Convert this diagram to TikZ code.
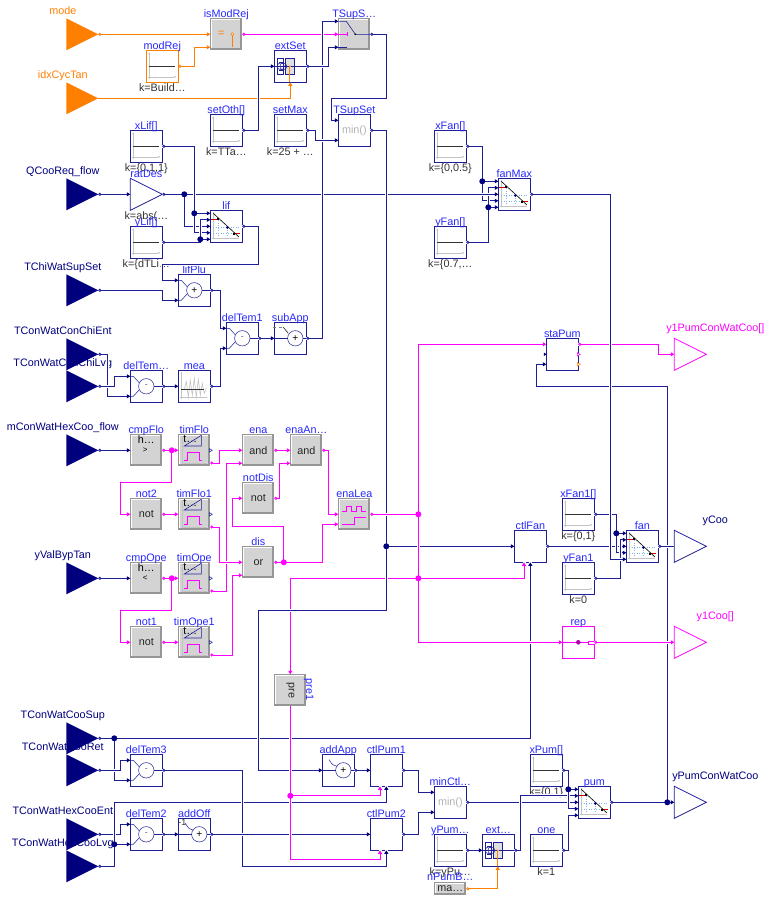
\documentclass[tikz,border=0pt]{standalone}
\usepackage{fontspec}
\setmainfont{Liberation Sans}
\usetikzlibrary{calc,arrows.meta}
\definecolor{navy}{RGB}{0,0,127}
\definecolor{lnav}{RGB}{30,30,150}
\definecolor{dkor}{RGB}{255,127,0}
\definecolor{mgt}{RGB}{255,0,255}
\definecolor{namec}{RGB}{40,40,255}
\definecolor{boolg}{RGB}{211,211,211}
\definecolor{shadg}{RGB}{150,150,150}
\definecolor{axg}{RGB}{195,195,195}
\definecolor{dotb}{RGB}{130,180,240}
\tikzset{
 txt/.style={inner sep=0pt,outer sep=0pt,font=\fontsize{10.8}{12}\selectfont},
 nmtxt/.style={txt,text=namec},
 valtxt/.style={txt,text=black!80},
 boolt/.style={txt,text=black!85},
 bkbox/.style={draw=lnav,fill=white,line width=.8pt,minimum size=32pt,inner sep=0pt,outer sep=0pt},
 bkorange/.style={bkbox,draw=dkor},
 bkmag/.style={bkbox,draw=mgt},
 bkhid/.style={minimum size=32pt,inner sep=0pt,outer sep=0pt},
 ic/.style={line width=.5pt},
 halo/.style={preaction={draw=white,line width=3pt,-}},
 wn/.style={draw=lnav,line width=.8pt,halo,{Circle[open,length=3pt,width=3pt,fill=white,color=lnav]}-{Triangle[length=3.5pt,width=4pt,color=navy]}},
 wnj/.style={draw=lnav,line width=.8pt,halo,-{Triangle[length=3.5pt,width=4pt,color=navy]}},
 wnu/.style={draw=lnav,line width=.8pt,halo,{Circle[open,length=3pt,width=3pt,fill=white]}-},
 wm/.style={draw=mgt,line width=.8pt,halo,{Circle[open,length=3pt,width=3pt,fill=white]}-{Triangle[length=3.5pt,width=4pt]}},
 wmj/.style={draw=mgt,line width=.8pt,halo,-{Triangle[length=3.5pt,width=4pt]}},
 wo/.style={draw=dkor,line width=.8pt,{Circle[open,length=3pt,width=3pt,fill=white]}-{Triangle[length=3.5pt,width=4pt]}},
 wob/.style={draw=dkor,line width=.8pt,-{Triangle[length=3.5pt,width=4pt]}},
}
\newcommand{\ports}[1]{%
 \coordinate (#1-na) at ($(#1.center)+(-16,-10)$);
 \coordinate (#1-nb) at ($(#1.center)+(-16,10)$);
 \coordinate (#1-ta) at ($(#1.center)+(-16,-13)$);
 \coordinate (#1-tb) at ($(#1.center)+(-16,13)$);
 \coordinate (#1-ia) at ($(#1.center)+(-16,-6.5)$);
 \coordinate (#1-ib) at ($(#1.center)+(-16,6.5)$);
 \coordinate (#1-bm) at ($(#1.center)+(-6.3,16)$);
}
\newcommand{\nameit}[2]{\node[nmtxt,anchor=base] (#1-n) at ($(#1.north)+(0,-1)$) {#2};}
\newcommand{\valueit}[2]{\node[valtxt,anchor=base] (#1-v) at ($(#1.south)+(0,8.8)$) {#2};}
% plain navy block with code inside
\newcommand{\blk}[5]{\node[bkbox] (#1) at (#2,#3) {};\ports{#1}\begin{scope}[shift={(#2,#3)}]#5\end{scope}\nameit{#1}{#4}}
% constant source
\newcommand{\consticon}{%
 \draw[axg,ic,-{Triangle[length=2pt,width=2pt]}] (-13,13) -- (-13,-14);
 \draw[axg,ic,-{Triangle[length=2pt,width=2pt]}] (-14,10.5) -- (14,10.5);
 \draw[black!80,line width=.7pt] (-13,0) -- (13,0);}
\newcommand{\constblk}[5]{\blk{#1}{#2}{#3}{#4}{\consticon}\valueit{#1}{#5}}
% grey boolean block
\newcommand{\boolblk}[5]{\node[bkhid] (#1) at (#2,#3) {};\ports{#1}%
 \begin{scope}[shift={(#2,#3)}]
 \fill[shadg] (-16,-16) rectangle (16,16);
 \fill[white] (-15,-15) rectangle (13.7,13.7);
 \fill[boolg] (-14,-14) rectangle (13.7,13.7);
 #5
 \end{scope}\nameit{#1}{#4}}
\newcommand{\bt}[2]{\node[boolt] (#1-s) at (0,0) {#2};}
\newcommand{\timerblk}[4]{\boolblk{#1}{#2}{#3}{#4}{%
 \draw[axg,ic] (-12,-14) -- (-12,13) -- (13,13);
 \node[boolt,text=black] (#1-s) at (-4,-11) {t…};
 \draw[lnav,line width=.6pt] (-10,-4.3) -- (7,-4.3) -- (7,-15) -- cycle;
 \draw[mgt,line width=.7pt] (-10,10) -- (-7,10) -- (-7,2) -- (5.5,2) -- (5.5,10) -- (8,10);
 \draw[lnav,fill=white,line width=.5pt] (15,-1.7) -- (18,0) -- (15,1.7) -- cycle;}}
\newcommand{\cmpblk}[5]{\boolblk{#1}{#2}{#3}{#4}{%
 \node[boolt,text=black] (#1-h) at (0,-11) {h…};
 \node[boolt,text=black,font=\fontsize{8}{9}\selectfont] (#1-s) at (-1,0) {#5};}}
% sum icons
\newcommand{\sumtwo}[3]{%
 \draw[lnav,ic] (0,0) circle (7.7);
 \draw[lnav,ic] (-16,-10) -- (-13,-10) -- (-7,-3.5);
 \draw[lnav,ic] (-16,10) -- (-13,10) -- (-7,3.5);
 \draw[lnav,ic] (7.7,0) -- (16,0);
 \node[boolt,text=#2,font=\fontsize{#3}{9}\selectfont] (#1-s) at (0,0) {+};}
\newcommand{\subtwo}[1]{%
 \draw[lnav,ic] (0,0) circle (7.7);
 \draw[lnav,ic] (-16,-10) -- (-13,-10) -- (-7,-3.5);
 \draw[lnav,ic] (-16,10) -- (-13,10) -- (-7,3.5);
 \draw[lnav,ic] (7.7,0) -- (16,0);
 \node[boolt,text=black!60,font=\fontsize{9}{9}\selectfont] (#1-s) at (0,0) {-};}
\newcommand{\sumone}[2]{%
 \draw[lnav,ic] (5,0) circle (7.7);
 \draw[lnav,ic] (-16,0) -- (-2.7,0);
 \draw[lnav,ic] (12.7,0) -- (16,0);
 \node[boolt,text=black,font=\fontsize{10}{9}\selectfont] (#1-s) at (5,0) {#2};}
% interpolation icon
\newcommand{\ixpicon}{%
 \draw[axg,ic] (-13,-14) -- (-13,13);
 \draw[axg,ic] (-14,11.5) -- (13,11.5);
 \draw[dotb,line width=.5pt,dotted] (-13,0.7) -- (14,0.7);
 \draw[dotb,line width=.5pt,dotted] (-13,6.5) -- (6,6.5);
 \draw[dotb,line width=.5pt,dotted] (-8.3,-6) -- (-8.3,11);
 \draw[dotb,line width=.5pt,dotted] (1,1) -- (1,11);
 \draw[red!80!black,line width=.6pt] (-15,-6.7) -- (-9,-6.7);
 \draw[red!80!black,line width=.6pt] (8,7.3) -- (13.3,7.3);
 \draw[black,line width=.6pt] (-13,-13) -- (12.7,10.7);
 \fill[black] (-9.3,-8) rectangle (-7.3,-6);
 \fill[black] (6.7,6.3) rectangle (8.7,8.3);
 \fill[navy] (1,1.2) circle (1.5);}
\newcommand{\minicon}[1]{\node[txt,text=black!30] (#1-s) at (0,0) {min()};}
\newcommand{\extricon}{%
 \draw[lnav,ic,fill=white] (-13.3,-7.7) rectangle (-6.7,7.7);
 \fill[black!12] (-5,-7.7) rectangle (4.3,7.7);
 \draw[lnav,ic] (-5,-7.7) rectangle (4.3,7.7);
 \draw[lnav,ic] (-16,0) -- (-1.5,0);
 \draw[lnav,ic] (-11,-4) -- (-6,-4) (-11,4) -- (-6,4);
 \draw[lnav,ic] (-7,0) circle (3.5);
 \draw[lnav,ic] (-9.5,0) circle (3.5);
 \draw[lnav,ic] (1,0) -- (16,0);
 \draw[dkor,line width=.7pt] (-0.5,0) -- (-0.5,16);
 \fill[dkor] (-0.5,0) circle (1);}
\begin{document}
\begin{tikzpicture}[x=1pt,y=-1pt]
\useasboundingbox (0,0) rectangle (771,902);
\fill[white] (0,0) rectangle (771,902);
\begin{scope}[xshift=.3pt,yshift=-.3pt]
% ---------- input names, then triangles
\foreach \nm/\yy/\tx/\cc in {mode/34/mode/dkor,idxCycTan/98/idxCycTan/dkor,QCooReq/194/QCooReq\_flow/navy,TChiWatSupSet/290/TChiWatSupSet/navy,TConWatConChiEnt/354/TConWatConChiEnt/navy,TConWatConChiLvg/386/TConWatConChiLvg/navy,mConWat/450/mConWatHexCoo\_flow/navy,yValBypTan/578/yValBypTan/navy,TConWatCooSup/738/TConWatCooSup/navy,TConWatCooRet/770/TConWatCooRet/navy,TConWatHexCooEnt/834/TConWatHexCooEnt/navy,TConWatHexCooLvg/866/TConWatHexCooLvg/navy}{
 \node[bkhid] (\nm) at (82,\yy) {};
 \node[txt,text=\cc,anchor=base] (\nm-n) at ($(\nm.center)+(-19.5,-19.4)$) {\tx};
}
\foreach \nm/\cc in {mode/dkor,idxCycTan/dkor,QCooReq/navy,TChiWatSupSet/navy,TConWatConChiEnt/navy,TConWatConChiLvg/navy,mConWat/navy,yValBypTan/navy,TConWatCooSup/navy,TConWatCooRet/navy,TConWatHexCooEnt/navy,TConWatHexCooLvg/navy}{
 \fill[\cc] (\nm.north west) -- (\nm.east) -- (\nm.south west) -- cycle;
}
% ---------- outputs
\foreach \nm/\yy/\tx/\cc/\lc in {yOnePum/354/y1PumConWatCoo[]/mgt/mgt,yCoo/546/yCoo/lnav/navy,yOneCoo/642/y1Coo[]/mgt/mgt,yPumCon/802/yPumConWatCoo/lnav/navy}{
 \node[bkhid] (\nm) at (690,\yy) {};
 \draw[\cc,line width=.8pt,fill=white] (\nm.north west) -- (\nm.east) -- (\nm.south west) -- cycle;
 \node[txt,text=\lc,anchor=base] (\nm-n) at ($(\nm.center)+(25,-23)$) {\tx};
}
% ---------- upper blocks
\boolblk{isModRej}{226}{34}{isModRej}{%
 \node[boolt,text=dkor] (isModRej-s) at (-5,0) {=};
 \draw[dkor,line width=.7pt] (6,0) -- (6,13);
 \draw[dkor,line width=.6pt,fill=white] (6,0) circle (1.5);}
\node[bkorange] (modRej) at (162,66) {};\ports{modRej}
\begin{scope}[shift={(162,66)}]\consticon\end{scope}
\nameit{modRej}{modRej}\valueit{modRej}{k=Build…}
\blk{extSet}{290}{66}{extSet}{\extricon}
\boolblk{TSupS}{354}{34}{TSupS…}{%
 \draw[lnav,line width=.6pt] (-16,-13) -- (-8,-13) -- (1,0) -- (16,0);
 \draw[mgt,line width=.6pt] (-16,0) -- (-7,0);
 \draw[mgt,line width=.6pt] (-7,-2) -- (-7,2);
 \draw[lnav,line width=.6pt] (-16,13) -- (-7,13);
 \fill[black] (1,0) circle (.9);}
\blk{TSupSet}{354}{130}{TSupSet}{\minicon{TSupSet}}
\constblk{setOth}{226}{130}{setOth[]}{k=TTa…}
\constblk{setMax}{290}{130}{setMax}{k=25 + …}
\constblk{xLif}{146}{146}{xLif[]}{k=\{0,1,1\}}
\node[bkhid] (ratDes) at (146,194) {};
\draw[lnav,line width=.8pt,fill=white] (ratDes.north west) -- (ratDes.east) -- (ratDes.south west) -- cycle;
\nameit{ratDes}{ratDes}\valueit{ratDes}{k=abs(…}
\constblk{yLif}{146}{242}{yLif[]}{k=\{dTLi…}
\blk{lif}{226}{226}{lif}{\ixpicon}
\blk{lifPlu}{194}{290}{lifPlu}{\sumtwo{lifPlu}{black}{10}}
\blk{delTemOne}{242}{338}{delTem1}{\subtwo{delTemOne}}
\blk{subApp}{290}{338}{subApp}{\sumone{subApp}{+}
 \draw[black!50,ic,dashed] (-17,-11) -- (-8,-11);
 \draw[black,ic] (-7,-11) -- (-2,-5);}
\blk{delTem}{146}{386}{delTem…}{\subtwo{delTem}}
\blk{mea}{194}{386}{mea}{%
 \draw[axg,ic] (-13,-14) -- (-13,13) (-14,11) -- (13,11);
 \draw[axg,line width=.6pt] (-10,3) -- (-8,-5) -- (-6,11) -- (-4,-6) -- (-2,9) -- (0,-8) -- (2,11) -- (4,-7) -- (6,9) -- (8,-3) -- (10,7) -- (12,2);
 \draw[black!80,line width=.7pt] (-13,3) -- (10,3);}
% ---------- boolean column
\cmpblk{cmpFlo}{146}{450}{cmpFlo}{>}
\timerblk{timFlo}{194}{450}{timFlo}
\boolblk{ena}{258}{450}{ena}{\bt{ena}{and}}
\boolblk{enaAnd}{306}{450}{enaAn…}{\bt{enaAnd}{and}}
\boolblk{notTwo}{146}{514}{not2}{\bt{notTwo}{not}}
\timerblk{timFloOne}{194}{514}{timFlo1}
\boolblk{notDis}{258}{498}{notDis}{\bt{notDis}{not}}
\boolblk{enaLea}{354}{514}{enaLea}{%
 \draw[mgt,line width=.7pt] (-12,-3.3) -- (-8,-3.3) -- (-8,-8.3) -- (-3,-8.3) -- (-3,-3.3) -- (2,-3.3) -- (2,-8.3) -- (7,-8.3) -- (7,-3.3) -- (12,-3.3);
 \draw[mgt,line width=.7pt] (-12,9.7) -- (0,9.7) -- (0,3.3) -- (12,3.3);}
\boolblk{dis}{258}{562}{dis}{\bt{dis}{or}}
\cmpblk{cmpOpe}{146}{578}{cmpOpe}{<}
\timerblk{timOpe}{194}{578}{timOpe}
\boolblk{notOne}{146}{642}{not1}{\bt{notOne}{not}}
\timerblk{timOpeOne}{194}{642}{timOpe1}
% pre
\node[bkhid] (preOne) at (290,690) {};
\begin{scope}[shift={(290,690)}]
 \fill[shadg] (-16,-16) rectangle (16,16);
 \fill[white] (-15,-15) rectangle (13.7,13.7);
 \fill[boolg] (-14,-14) rectangle (13.7,13.7);
 \node[boolt,rotate=-90] (preOne-s) at (0,0) {pre};
\end{scope}
\node[nmtxt,rotate=-90] (preOne-n) at ($(preOne.center)+(18.5,-1)$) {pre1};
% ---------- lower blocks
\blk{delTemThree}{146}{770}{delTem3}{\subtwo{delTemThree}}
\blk{addApp}{338}{770}{addApp}{\sumone{addApp}{+}
 \draw[lnav,ic] (-9.3,-10.7) .. controls (-6,-5) and (-4,-4.5) .. (-1.3,-4);}
\blk{ctlPumOne}{386}{770}{ctlPum1}{}
\blk{delTemTwo}{146}{834}{delTem2}{\subtwo{delTemTwo}}
\blk{addOff}{194}{834}{addOff}{\sumone{addOff}{+}
 \node[valtxt,font=\fontsize{9}{9}\selectfont] (addOff-k) at (-12,-12) {-1};
 \draw[lnav,ic] (-9,-11) .. controls (-6,-6) and (-4,-4.5) .. (-1,-4);}
\blk{ctlPumTwo}{386}{834}{ctlPum2}{}
\blk{minCtl}{450}{802}{minCtl…}{\minicon{minCtl}}
\constblk{yPum}{450}{850}{yPum…}{k=yPu…}
\blk{ext}{498}{850}{ext…}{\extricon}
\constblk{one}{546}{850}{one}{k=1}
\constblk{xPum}{546}{770}{xPum[]}{k=\{0,1\}}
\blk{pum}{594}{802}{pum}{\ixpicon}
\node[bkhid,minimum height=13pt] (nPumB) at (450,888.5) {};
\fill[shadg] (nPumB.north west) rectangle (nPumB.south east);
\fill[white] ($(nPumB.north west)+(1,1)$) rectangle ($(nPumB.south east)+(-2,-2)$);
\fill[boolg] ($(nPumB.north west)+(2,2)$) rectangle ($(nPumB.south east)+(-2,-2)$);
\node[boolt] (nPumB-s) at (nPumB.center) {ma…};
\node[nmtxt,anchor=base] (nPumB-n) at ($(nPumB.north)+(0,-2)$) {nPumB…};
% ---------- right blocks
\constblk{xFan}{450}{146}{xFan[]}{k=\{0,0.5\}}
\constblk{yFan}{450}{242}{yFan[]}{k=\{0.7,…}
\blk{fanMax}{514}{194}{fanMax}{\ixpicon}
\blk{staPum}{562}{354}{staPum}{}
\blk{ctlFan}{530}{546}{ctlFan}{}
\constblk{xFanOne}{578}{514}{xFan1[]}{k=\{0,1\}}
\constblk{yFanOne}{578}{578}{yFan1}{k=0}
\blk{fan}{642}{546}{fan}{\ixpicon}
\node[bkmag] (rep) at (578,642) {};\ports{rep}
\begin{scope}[shift={(578,642)}]
 \draw[mgt,ic] (-16,0) -- (10,0);
 \draw[mgt,ic] (10,-1.5) rectangle (16,1.5);
 \fill[mgt!70!black] (0,0) circle (2.3);
\end{scope}
\nameit{rep}{rep}
% ---------- junctions
\coordinate (jRat) at (184,194);
\coordinate (jXLif) at (194,213);
\coordinate (jYLif) at (200,239);
\coordinate (jXFan) at (482,181);
\coordinate (jYFan) at (488,207);
\coordinate (jCmpFlo) at (171.5,450);
\coordinate (jCmpOpe) at (171.5,578);
\coordinate (jDis) at (283.5,562);
\coordinate (jEa) at (418,514);
\coordinate (jEb) at (418,578);
\coordinate (jT) at (386,546);
\coordinate (jSup) at (114,738);
\coordinate (jLvg) at (114,844);
\coordinate (jPre) at (290,795.5);
\coordinate (jXPum) at (568,789);
\coordinate (jPumO) at (667,802);
\coordinate (jXFanO) at (616,533);
% ---------- orange wires
\draw[wo] (mode.east) -- (isModRej.west);
\draw[wo] (modRej.east) -- ++(16,0) |- (isModRej-tb);
\draw[wob] (idxCycTan.east) -| (extSet.south);
\draw[wo] (nPumB.east) -| ($(ext.south)+(-.5,0)$);
% ---------- magenta wires (first group)
\draw[wm] (isModRej.east) -- (TSupS.west);
\draw[wm] (cmpFlo.east) -- (timFlo.west);
\draw[wmj] (jCmpFlo) -- (171.5,482) -- (120,482) |- (notTwo.west);
\draw[wm] (notTwo.east) -- (timFloOne.west);
\draw[wm] (cmpOpe.east) -- (timOpe.west);
\draw[wmj] (jCmpOpe) -- (171.5,610) -- (120,610) |- (notOne.west);
\draw[wm] (notOne.east) -- (timOpeOne.west);
\draw[wm] ($(timOpe.east)+(0,12.7)$) -- ++(16,0) |- (ena-tb);
\draw[wm] ($(timOpeOne.east)+(0,12.7)$) -- ++(22,0) |- (dis-tb);
\draw[wm] ($(timFloOne.east)+(0,12.7)$) -- ++(9.5,0) |- (dis.west);
\draw[wm] ($(timFlo.east)+(0,12.7)$) -- ++(9.5,0) |- (ena.west);
\draw[wm] (ena.east) -- (enaAnd.west);
\draw[wm] (notDis.east) -- ++(5.5,0) |- (enaAnd-tb);
\draw[wm] (enaAnd.east) -- ++(6,0) |- (enaLea.west);
\draw[wm] (dis.east) -- ++(48,0) |- (enaLea-nb);
\draw[wmj] (jDis) -- (283.5,526) -- (232,526) |- (notDis.west);
% ---------- long lower navy wire, then pre
\draw[wn] (TConWatCooSup.east) -- (530,738) -- (ctlFan.south);
\draw[wnj] (jSup) |- (delTemThree-nb);
\draw[wn] (TConWatCooRet.east) -- (120,770) |- (delTemThree-na);
\draw[wn] (TConWatHexCooEnt.east) -- (120,834) |- (delTemTwo-na);
\draw[wn] (TConWatHexCooLvg.east) -- (114,866) -- (114,802) -| (ctlPumOne.south);
\draw[wnj] (jLvg) -- (delTemTwo-nb);
\draw[wn] (delTemThree.east) -- (242,770) -- (242,866) -| (ctlPumTwo.south);
\draw[wn] (delTemTwo.east) -- (addOff.west);
\draw[wn] (addOff.east) -- (ctlPumTwo.west);
\draw[wmj] (jEb) -- (290,578) -- (preOne.north);
% ---------- top-left navy wires
\draw[wn] (xFan.east) -- ++(16,0) |- (fanMax-ib);
\draw[wnj] (jXFan) -- (fanMax-ta);
\draw[wn] (yFan.east) -- ++(22,0) |- (fanMax-ia);
\draw[wnj] (jYFan) -- (fanMax-tb);
\draw[wn] (QCooReq.east) -- (ratDes.west);
\draw[wn] (ratDes.east) -- (fanMax.west);
\draw[wnj] (jRat) |- (lif.west);
\draw[wn] (xLif.east) -- ++(32,0) |- (lif-ib);
\draw[wnj] (jXLif) -- (lif-ta);
\draw[wn] (yLif.east) -- ++(38,0) |- (lif-ia);
\draw[wnj] (jYLif) -- (lif-tb);
\draw[wn] (lif.east) -- ++(16,0) -- (258,264) -- (162,264) |- (lifPlu-na);
\draw[wn] (TChiWatSupSet.east) -- (162,290) |- (lifPlu-nb);
\draw[wn] (lifPlu.east) -- ++(10,0) |- (delTemOne-na);
\draw[wn] (mea.east) -- ++(10,0) |- (delTemOne-nb);
\draw[wn] (delTemOne.east) -- (subApp.west);
\draw[wn] (subApp.east) -- ++(16,0) |- (TSupS-ta);
\draw[wn] (setOth.east) -- ++(16,0) |- (extSet.west);
\draw[wn] (extSet.east) -- ++(22,0) |- (TSupS-tb);
\draw[wn] (setMax.east) -- ++(9,0) |- (TSupSet-nb);
\draw[wn] (TSupS.east) -- ++(16,0) -- (386,98) -- (331,98) |- (TSupSet-na);
\draw[wn] (TConWatConChiEnt.east) -- (107,354) |- (delTem-nb);
\draw[wn] (TConWatConChiLvg.east) -- (114,386) |- (delTem-na);
\draw[wn] (delTem.east) -- (mea.west);
\draw[wn] (mConWat.east) -- (cmpFlo.west);
\draw[wn] (yValBypTan.east) -- (cmpOpe.west);
% ---------- TSupSet wire
\draw[wn] (TSupSet.east) -- (386,130) -- (386,546) -- (ctlFan.west);
\draw[wnj] (jT) -- (386,610) -- (258,610) |- (addApp.west);
\draw[wn] (addApp.east) -- (ctlPumOne.west);
% ---------- other magenta
\draw[wm] (enaLea.east) -- (418,514) |- (staPum-na);
\draw[wmj] (jEa) -- (jEb) -| (ctlFan-bm);
\draw[wmj] (preOne.south) -- (290,859) -| (ctlPumTwo-bm);
\draw[wmj] (jPre) -| (ctlPumOne-bm);
% ---------- lower right
\draw[wn] (ctlPumOne.east) -- ++(16,0) |- (minCtl-na);
\draw[wn] (ctlPumTwo.east) -- ++(16,0) |- (minCtl-nb);
\draw[wn] (minCtl.east) -- (pum.west);
\draw[wn] (yPum.east) -- (ext.west);
\draw[wn] (ext.east) -- ++(6,0) |- (pum-ia);
\draw[wn] (one.east) -- ++(6,0) |- (pum-tb);
\draw[wn] (xPum.east) -- ++(6,0) |- (pum-ib);
\draw[wnj] (jXPum) -- (pum-ta);
\draw[wn] (pum.east) -- (yPumCon.west);
\draw[wnj] (jPumO) -- (667,386) -- (536,386) |- (staPum-nb);
\draw[wm] ($(staPum.east)+(0,-10)$) -- (658,344) |- (yOnePum.west);
\draw[wmj] (jEb) |- (rep.west);
\draw[wm] (rep.east) -- (yOneCoo.west);
\draw[wn] (ctlFan.east) -- (fan.west);
\draw[wn] (xFanOne.east) -- ++(22,0) |- (fan-ib);
\draw[wnj] (jXFanO) -- (fan-ta);
\draw[wn] (yFanOne.east) -- ++(26,0) |- (fan-ia);
\draw[wnu] (fan.east) -- (yCoo.west);
\draw[wn] (fanMax.east) -- (610,194) |- (fan-tb);
% ---------- port marks without wires
\fill[navy] ($(staPum.west)+(-2.5,0)$) ++(0,-1.7) -- ++(3,1.7) -- ++(-3,1.7) -- cycle;
\draw[mgt,fill=white,line width=.5pt] (staPum.east) ++(-1,-1.7) -- ++(3,1.7) -- ++(-3,1.7) -- cycle;
\draw[dkor,fill=white,line width=.5pt] ($(staPum.east)+(-1,10)$) ++(0,-1.7) -- ++(3,1.7) -- ++(-3,1.7) -- cycle;
% ---------- dots
\foreach \jj in {jRat,jXLif,jYLif,jXFan,jYFan,jT,jSup,jLvg,jXPum,jPumO,jXFanO}{\fill[navy] (\jj) circle (3);}
\foreach \jj in {jCmpFlo,jCmpOpe,jDis,jEa,jEb,jPre}{\fill[mgt] (\jj) circle (3);}
\end{scope}
\end{tikzpicture}
\end{document}
